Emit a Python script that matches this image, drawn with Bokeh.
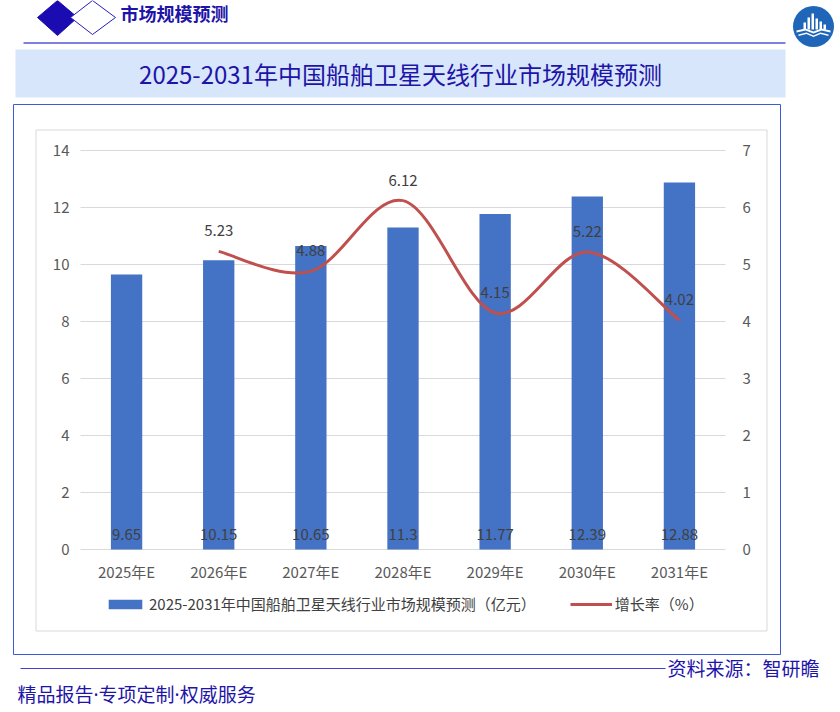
from bokeh.plotting import figure
from bokeh.models import (Range1d, LinearAxis, FixedTicker, Legend, LegendItem)
from bokeh.embed import file_html
from bokeh.resources import INLINE
from bokeh.core.properties import value

# ---------------- data ----------------
years = ["2025年E", "2026年E", "2027年E", "2028年E", "2029年E", "2030年E", "2031年E"]
market = [9.65, 10.15, 10.65, 11.3, 11.77, 12.39, 12.88]
growth_years = ["2026年E", "2027年E", "2028年E", "2029年E", "2030年E", "2031年E"]
growth = [5.23, 4.88, 6.12, 4.15, 5.22, 4.02]
left_ticks = [0, 2, 4, 6, 8, 10, 12, 14]
right_ticks = [0, 1, 2, 3, 4, 5, 6, 7]
bar_name = "2025-2031年中国船舶卫星天线行业市场规模预测（亿元）"
line_name = "增长率（%）"
title_text = "2025-2031年中国船舶卫星天线行业市场规模预测"
header_text = "市场规模预测"
source_text = "资料来源：智研瞻"
slogan_text = "精品报告·专项定制·权威服务"

FONT = "Noto Sans CJK SC"
DARK = "#1e14a8"
TICK_COLOR = "#595959"
W, H = 840, 712

# plot-area placement on the page (pixels from top-left)
PA_LEFT, PA_RIGHT, PA_TOP, PA_BOTTOM = 80, 725, 150, 549
X_MIN, X_MAX = -0.5, len(years) - 0.5
Y_MAX_L, Y_MAX_R = 14.0, 7.0

ux = (X_MAX - X_MIN) / (PA_RIGHT - PA_LEFT)
vy = Y_MAX_L / (PA_BOTTOM - PA_TOP)
x_range = Range1d(X_MIN - PA_LEFT * ux, X_MAX + (W - PA_RIGHT) * ux)
y_range = Range1d(-(H - PA_BOTTOM) * vy, Y_MAX_L + PA_TOP * vy)
r = Y_MAX_R / Y_MAX_L
right_range = Range1d(y_range.start * r, y_range.end * r)

p = figure(width=W, height=H, output_backend="svg", toolbar_location=None,
           title=None, tools="", x_range=x_range, y_range=y_range, min_border=0)
p.background_fill_color = "white"
p.border_fill_color = "white"
p.outline_line_color = None
p.extra_x_ranges = {"px": Range1d(0, W)}
p.extra_y_ranges = {"right": right_range, "py": Range1d(H, 0)}
p.grid.visible = False

# ================= page decoration (page pixel coordinates) =================
D = dict(x_range_name="px", y_range_name="py")
p.quad(left=[13], right=[780], top=[104], bottom=[654], fill_alpha=0,
       line_color="#3b5bdb", line_width=1, **D)
p.quad(left=[35.5], right=[766.5], top=[129.5], bottom=[630.5], fill_alpha=0,
       line_color="#d9d9d9", line_width=1, **D)
# title banner
p.quad(left=[15], right=[785], top=[49], bottom=[97], fill_color="#d7e6fa",
       line_color=None, **D)
p.text(x=[400], y=[73], text=[title_text], text_font=value(FONT),
       text_font_size="24px", text_color=DARK, text_align="center",
       text_baseline="middle", **D)
# diamonds, header text, rule
p.patch([37, 57, 77, 57], [17, 0, 17, 35], fill_color="#1a0cb0", line_color="#1a0cb0", **D)
p.patch([70, 92, 115, 92], [17, 0, 17, 34], fill_color="white", line_color="#2a1cb8",
        line_width=1, **D)
p.text(x=[120], y=[12], text=[header_text], text_font=value(FONT),
       text_font_size="18px", text_font_style="bold", text_color=DARK,
       text_align="left", text_baseline="middle", **D)
p.line([23, 785], [42.5, 42.5], line_color="#5656d6", line_width=1.5, **D)
# logo
p.scatter([813], [26], size=41, marker="circle", fill_color="#1f66b8", line_color=None, **D)
for (bx, bt) in [(803, 22), (807, 17), (811, 13), (815, 18), (819, 21), (823, 24)]:
    p.quad(left=[bx], right=[bx + 2.5], top=[bt], bottom=[29], fill_color="white",
           line_color=None, **D)
p.patch([796, 805, 813, 821, 830, 830, 821, 813, 805, 796],
        [30, 28, 31, 28, 30, 32, 30, 33, 30, 32], fill_color="white", line_color=None, **D)
p.patch([798, 806, 813, 820, 828, 828, 820, 813, 806, 798],
        [34, 32, 35, 32, 34, 35.5, 33.5, 36.5, 33.5, 35.5], fill_color="white",
        line_color=None, **D)
# footer
p.line([20, 665], [668, 668], line_color="#3f3fd0", line_width=1.2, **D)
p.text(x=[667], y=[667], text=[source_text], text_font=value(FONT),
       text_font_size="19px", text_color=DARK, text_align="left",
       text_baseline="middle", **D)
p.text(x=[17], y=[694], text=[slogan_text],
       text_font=value("Noto Sans, Noto Sans CJK SC"),
       text_font_size="19px", text_color=DARK, text_align="left",
       text_baseline="middle", **D)

# ================= chart =================
# horizontal grid lines at the left-axis ticks, spanning the plot area
p.segment(x0=[X_MIN] * len(left_ticks), x1=[X_MAX] * len(left_ticks),
          y0=left_ticks, y1=left_ticks, line_color="#d9d9d9", line_width=1)

xi = list(range(len(years)))
bars = p.vbar(x=xi, top=market, width=0.34, fill_color="#4472c4", line_color=None)
p.text(x=xi, y=[0] * len(market), text=[str(v) for v in market],
       text_font=value(FONT), text_font_size="15px", text_color="#404040",
       text_align="center", text_baseline="bottom", y_offset=-10)

# smoothed growth curve (Catmull-Rom style Bezier through the data points)
gx = [years.index(g) for g in growth_years]
pts = list(zip(gx, growth))
n = len(pts)
x0s, y0s, x1s, y1s, cx0s, cy0s, cx1s, cy1s = ([] for _ in range(8))
for i in range(n - 1):
    P0 = pts[i - 1] if i > 0 else pts[i]
    P1 = pts[i]
    P2 = pts[i + 1]
    P3 = pts[i + 2] if i + 2 < n else pts[i + 1]
    x0s.append(P1[0]); y0s.append(P1[1])
    x1s.append(P2[0]); y1s.append(P2[1])
    cx0s.append(P1[0] + (P2[0] - P0[0]) / 6); cy0s.append(P1[1] + (P2[1] - P0[1]) / 6)
    cx1s.append(P2[0] - (P3[0] - P1[0]) / 6); cy1s.append(P2[1] - (P3[1] - P1[1]) / 6)
curve = p.bezier(x0=x0s, y0=y0s, x1=x1s, y1=y1s, cx0=cx0s, cy0=cy0s, cx1=cx1s, cy1=cy1s,
                 line_color="#c0504d", line_width=3, y_range_name="right")
p.text(x=gx, y=growth, text=[f"{g:.2f}" for g in growth], y_range_name="right",
       text_font=value(FONT), text_font_size="15px", text_color="#404040",
       text_align="center", text_baseline="bottom", y_offset=-15)

# axes drawn at fixed positions inside the page-sized frame
p.xaxis.ticker = FixedTicker(ticks=xi)
p.xaxis.major_label_overrides = {i: years[i] for i in xi}
p.xaxis.fixed_location = 0
p.yaxis.ticker = FixedTicker(ticks=left_ticks)
p.yaxis.fixed_location = X_MIN
ax_r = LinearAxis(y_range_name="right", ticker=FixedTicker(ticks=right_ticks),
                  fixed_location=X_MAX)
p.add_layout(ax_r, "right")
for ax in (p.xaxis[0], p.yaxis[0], ax_r):
    ax.axis_line_color = None
    ax.major_tick_line_color = None
    ax.minor_tick_line_color = None
    ax.major_tick_out = 0
    ax.major_tick_in = 0
    ax.major_label_text_font = FONT
    ax.major_label_text_font_size = "15px"
    ax.major_label_text_color = TICK_COLOR
p.xaxis.major_label_standoff = 11
p.yaxis.major_label_standoff = 11
ax_r.major_label_standoff = 17

# legend below the category labels
legend = Legend(items=[LegendItem(label=bar_name, renderers=[bars]),
                       LegendItem(label=line_name, renderers=[curve])],
                orientation="horizontal", location=(104, H - 614),
                glyph_width=42, glyph_height=12, label_standoff=3, spacing=34,
                padding=0, margin=0, border_line_color=None,
                background_fill_alpha=0,
                label_text_font=FONT, label_text_font_size="15px",
                label_text_color="#404040")
p.add_layout(legend)

open("out.html", "w").write(file_html(p, INLINE))
